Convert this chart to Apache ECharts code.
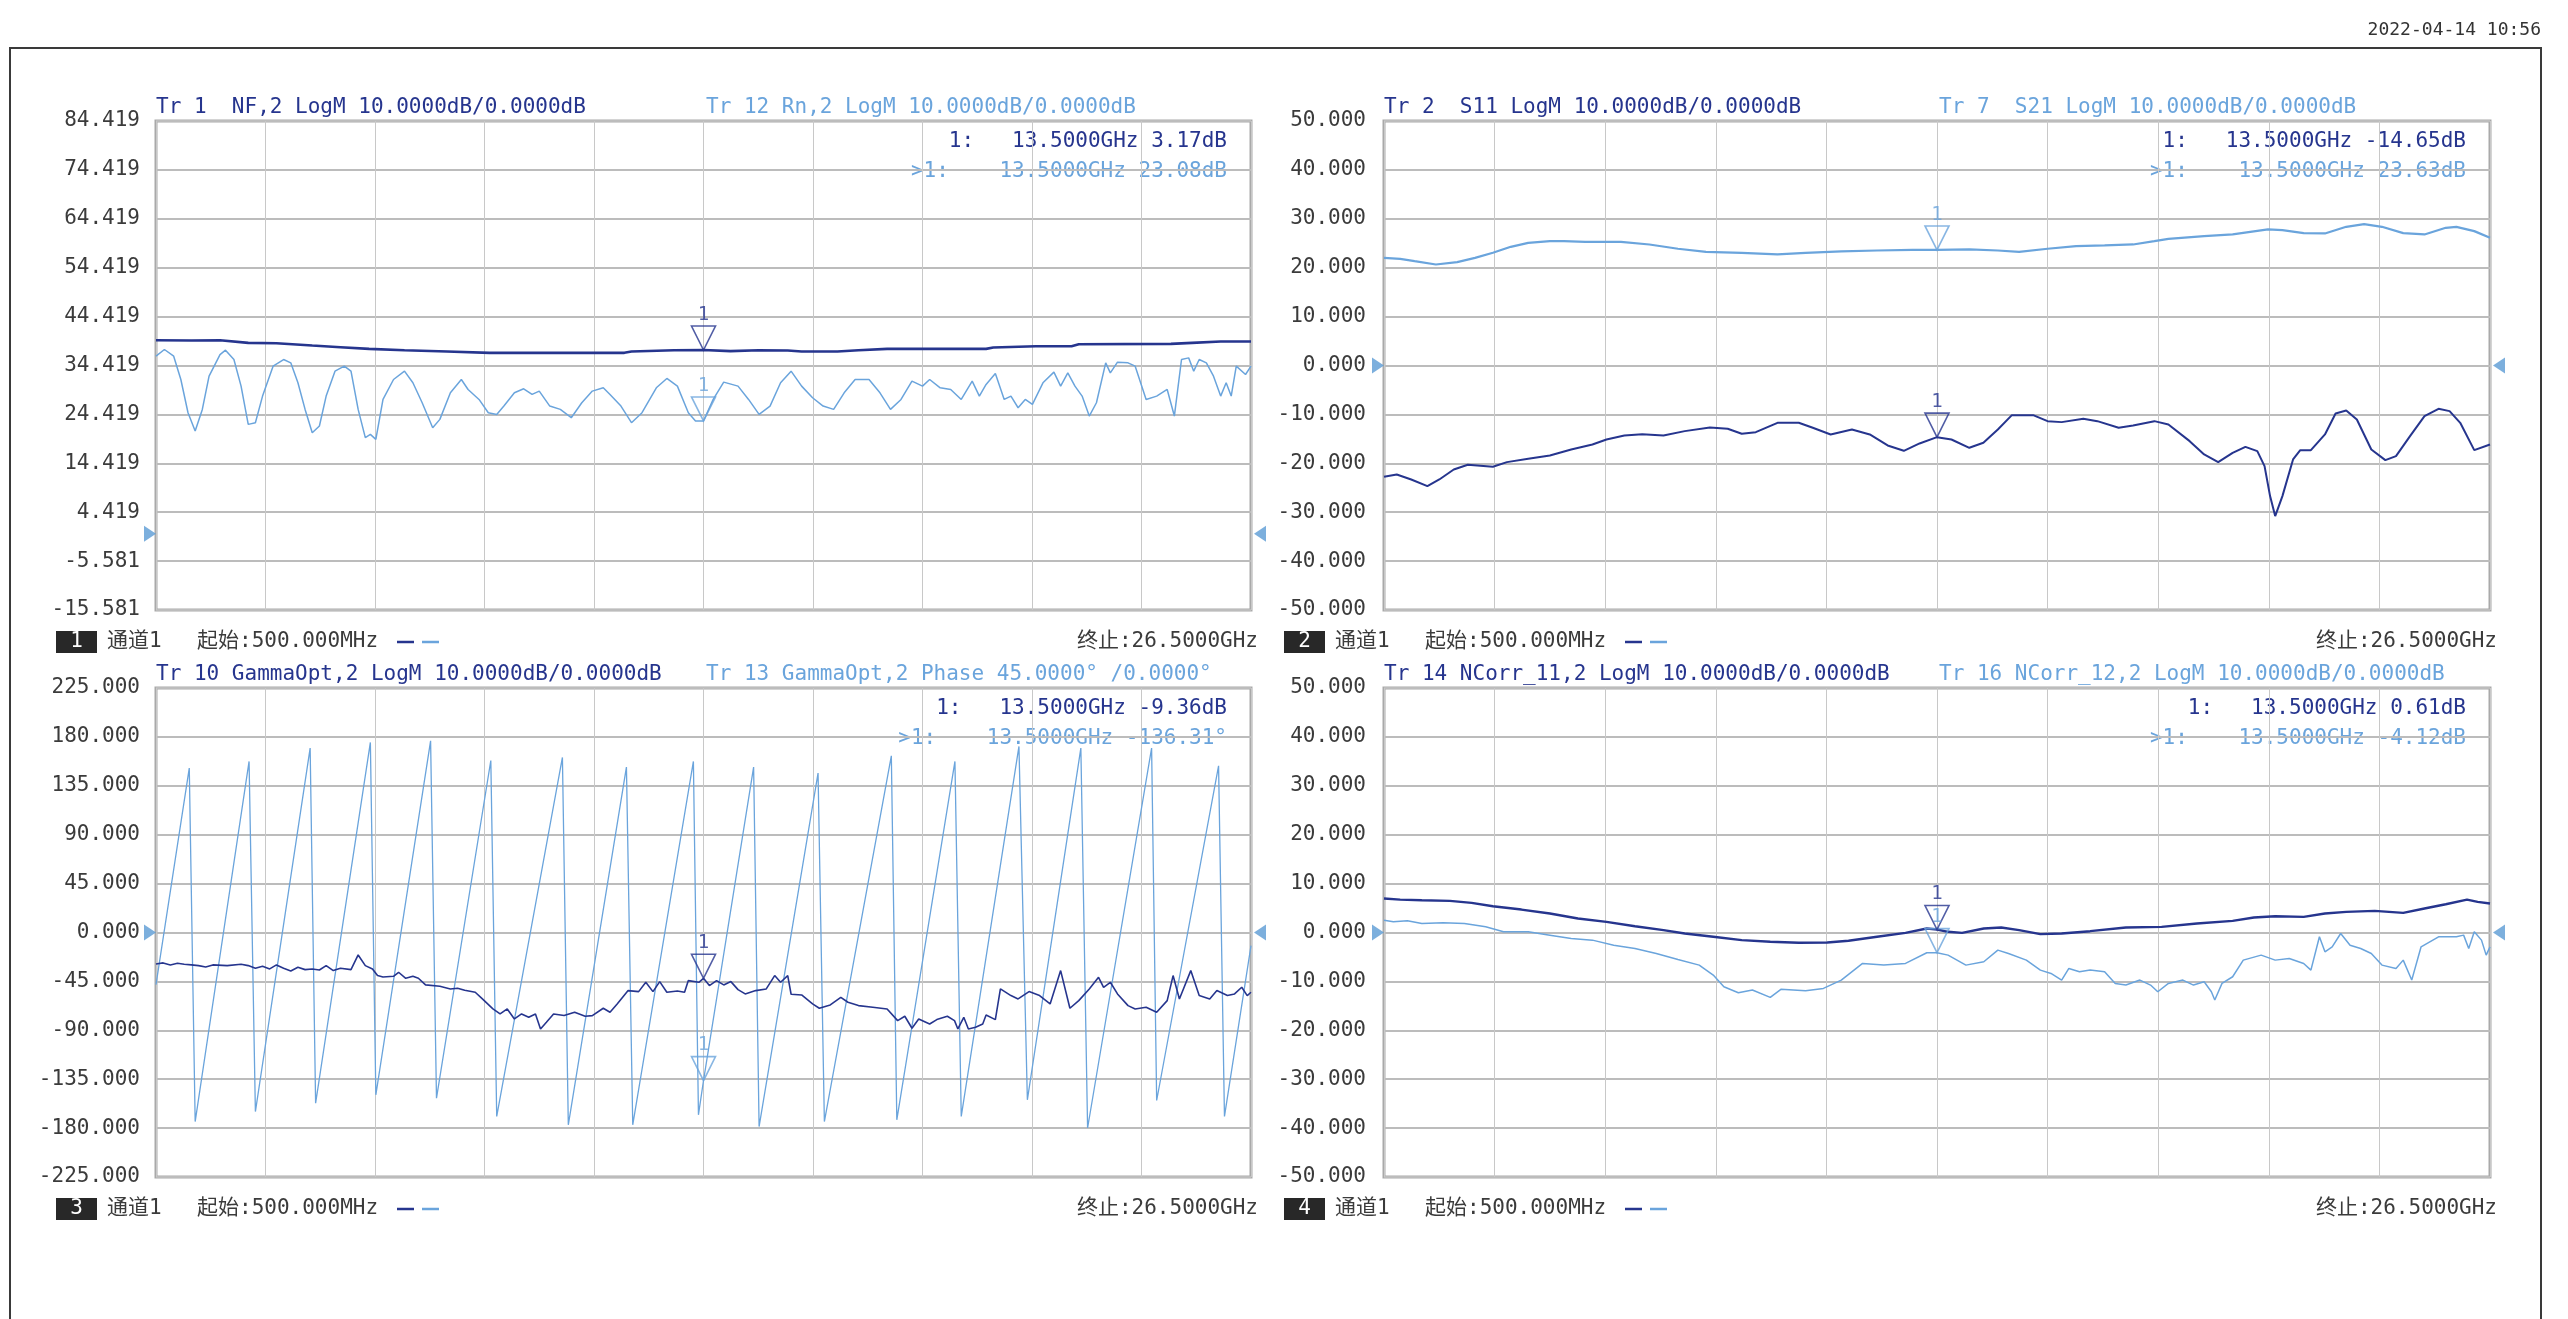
<!DOCTYPE html>
<html>
<head>
<meta charset="utf-8">
<script src="https://cdn.jsdelivr.net/npm/echarts@6/dist/echarts.min.js"></script>
<style>
  html, body { margin: 0; padding: 0; background: #ffffff; }
  #chart { width: 2568px; height: 1319px; }
</style>
</head>
<body>
<div id="chart"></div>
<script>
// ---- Sweep / marker settings ----
const markerFreq = 13.5;          // GHz, marker 1 on every trace
const startLabel = '起始:500.000MHz';
const stopLabel = '终止:26.5000GHz';
const channelLabel = '通道1';
const timestamp = '2022-04-14 10:56';

// ---- Y tick labels (top to bottom) ----
const ticksNF = ['84.419', '74.419', '64.419', '54.419', '44.419', '34.419', '24.419', '14.419', '4.419', '-5.581', '-15.581'];
const ticksS = ['50.000', '40.000', '30.000', '20.000', '10.000', '0.000', '-10.000', '-20.000', '-30.000', '-40.000', '-50.000'];
const ticksPhase = ['225.000', '180.000', '135.000', '90.000', '45.000', '0.000', '-45.000', '-90.000', '-135.000', '-180.000', '-225.000'];
const ticksNCorr = ['50.000', '40.000', '30.000', '20.000', '10.000', '0.000', '-10.000', '-20.000', '-30.000', '-40.000', '-50.000'];

// ---- Trace headers ----
const headersDark = ['Tr 1  NF,2 LogM 10.0000dB/0.0000dB', 'Tr 2  S11 LogM 10.0000dB/0.0000dB',
  'Tr 10 GammaOpt,2 LogM 10.0000dB/0.0000dB', 'Tr 14 NCorr_11,2 LogM 10.0000dB/0.0000dB'];
const headersLight = ['Tr 12 Rn,2 LogM 10.0000dB/0.0000dB', 'Tr 7  S21 LogM 10.0000dB/0.0000dB',
  'Tr 13 GammaOpt,2 Phase 45.0000° /0.0000°', 'Tr 16 NCorr_12,2 LogM 10.0000dB/0.0000dB'];

// ---- Traces: [frequency GHz, value] ----
const nfTrace = [[0.5,5.17],[1.34,5.10],[2.02,5.17],[2.69,4.63],[3.36,4.56],[4.21,4.08],[4.88,3.74],[5.56,3.40],[6.40,3.13],[7.41,2.86],[8.42,2.59],[9.77,2.59],[11.62,2.59],[11.79,2.86],[12.80,3.13],[13.5,3.17],[14.14,2.93],[14.81,3.13],[15.50,3.06],[15.83,2.86],[16.68,2.86],[17.18,3.13],[17.86,3.40],[20.21,3.40],[20.38,3.67],[21.39,3.95],[22.24,3.95],[22.41,4.35],[24.60,4.42],[25.10,4.63],[25.78,4.90],[26.5,4.90]];

const rnTrace = [[0.50,36.32],[0.70,37.69],[0.92,36.32],[1.09,31.56],[1.26,24.76],[1.43,21.02],[1.60,25.44],[1.76,32.24],[2.02,36.66],[2.15,37.55],[2.35,35.64],[2.52,30.20],[2.69,22.38],[2.86,22.72],[3.03,28.16],[3.28,34.28],[3.53,35.64],[3.70,34.96],[3.87,30.88],[4.04,25.44],[4.21,20.68],[4.38,22.04],[4.54,28.16],[4.75,33.26],[4.97,34.28],[5.13,33.26],[5.30,25.44],[5.47,19.66],[5.59,20.34],[5.72,19.32],[5.89,27.48],[6.14,31.56],[6.40,33.26],[6.60,30.88],[6.82,26.80],[7.07,21.70],[7.24,23.40],[7.49,28.84],[7.75,31.56],[7.91,29.52],[8.17,27.48],[8.39,24.76],[8.59,24.42],[8.76,26.12],[9.01,28.84],[9.23,29.66],[9.43,28.50],[9.60,29.18],[9.85,26.12],[10.10,25.44],[10.36,23.74],[10.61,26.80],[10.86,29.18],[11.12,29.86],[11.28,28.50],[11.54,26.12],[11.79,22.72],[12.04,24.76],[12.38,29.86],[12.63,31.77],[12.88,30.20],[13.14,24.76],[13.31,23.06],[13.5,23.08],[13.73,27.48],[13.98,31.02],[14.32,30.20],[14.57,27.48],[14.82,24.42],[15.08,26.12],[15.33,30.88],[15.58,33.26],[15.83,30.20],[16.09,27.82],[16.34,26.12],[16.59,25.44],[16.84,28.84],[17.10,31.56],[17.43,31.56],[17.69,28.84],[17.94,25.44],[18.19,27.48],[18.45,31.22],[18.70,30.20],[18.87,31.56],[19.12,29.86],[19.37,29.52],[19.62,27.48],[19.88,31.22],[20.05,28.16],[20.21,30.54],[20.43,32.79],[20.64,27.48],[20.80,28.16],[20.97,25.78],[21.14,27.48],[21.31,26.46],[21.56,30.88],[21.82,33.06],[21.98,30.20],[22.15,32.92],[22.32,30.20],[22.49,28.16],[22.66,24.08],[22.83,26.80],[23.05,34.96],[23.16,32.92],[23.33,35.10],[23.58,34.96],[23.75,34.28],[24.01,27.48],[24.26,28.16],[24.51,29.52],[24.68,24.08],[24.85,35.64],[25.02,35.98],[25.14,33.26],[25.27,35.64],[25.44,34.96],[25.61,32.24],[25.78,28.16],[25.91,30.88],[26.03,28.16],[26.15,34.28],[26.37,32.58],[26.50,34.28]];

const s11Trace = [[0.5,-22.76],[0.80,-22.28],[1.14,-23.31],[1.52,-24.67],[1.80,-23.31],[2.14,-21.26],[2.47,-20.31],[3.06,-20.72],[3.39,-19.76],[3.89,-19.08],[4.40,-18.40],[4.90,-17.17],[5.40,-16.15],[5.73,-15.13],[6.15,-14.31],[6.57,-14.04],[7.07,-14.31],[7.57,-13.42],[8.16,-12.67],[8.58,-12.94],[8.91,-13.97],[9.24,-13.63],[9.75,-11.72],[10.25,-11.72],[10.58,-12.74],[11.00,-14.10],[11.50,-13.08],[11.92,-14.10],[12.34,-16.35],[12.72,-17.44],[13.09,-15.94],[13.5,-14.65],[13.84,-15.13],[14.26,-16.83],[14.59,-15.81],[14.93,-13.08],[15.26,-10.15],[15.76,-10.15],[16.10,-11.38],[16.43,-11.58],[16.94,-10.90],[17.27,-11.38],[17.77,-12.74],[18.11,-12.26],[18.61,-11.38],[18.94,-12.06],[19.44,-15.47],[19.78,-18.19],[20.11,-19.76],[20.45,-17.85],[20.75,-16.63],[21.03,-17.51],[21.20,-20.58],[21.33,-26.71],[21.45,-30.80],[21.62,-26.71],[21.87,-19.22],[22.04,-17.31],[22.29,-17.31],[22.62,-14.10],[22.87,-9.81],[23.12,-9.20],[23.37,-11.04],[23.71,-17.17],[24.04,-19.35],[24.29,-18.53],[24.62,-14.44],[24.96,-10.35],[25.29,-8.86],[25.55,-9.33],[25.80,-11.72],[26.13,-17.31],[26.5,-16.15]];

const s21Trace = [[0.5,22.02],[0.88,21.82],[1.22,21.34],[1.72,20.66],[2.22,21.14],[2.64,22.02],[3.06,23.05],[3.48,24.27],[3.89,25.09],[4.40,25.43],[4.73,25.43],[5.23,25.30],[6.07,25.30],[6.74,24.75],[7.41,23.87],[8.07,23.25],[8.91,23.05],[9.75,22.71],[10.41,23.05],[11.25,23.32],[12.09,23.52],[12.92,23.66],[13.5,23.63],[14.26,23.73],[14.93,23.52],[15.43,23.25],[16.10,23.87],[16.77,24.41],[17.44,24.55],[18.11,24.75],[18.61,25.43],[18.94,25.91],[19.78,26.46],[20.45,26.80],[21.28,27.82],[21.62,27.68],[22.12,27.07],[22.62,27.00],[23.12,28.36],[23.54,28.91],[23.96,28.36],[24.46,27.07],[24.96,26.80],[25.46,28.16],[25.71,28.36],[26.13,27.48],[26.5,26.11]];

const gammaMagTrace = [[0.5,-6.43],[0.67,-6.22],[0.84,-6.63],[1.01,-6.29],[1.17,-6.50],[1.34,-6.63],[1.51,-6.77],[1.68,-7.04],[1.85,-6.63],[2.19,-6.77],[2.52,-6.50],[2.69,-6.77],[2.86,-7.31],[3.03,-6.91],[3.20,-7.45],[3.36,-6.63],[3.53,-7.31],[3.70,-7.86],[3.87,-7.11],[4.04,-7.59],[4.21,-7.45],[4.38,-7.66],[4.54,-6.77],[4.71,-7.79],[4.88,-7.31],[5.13,-7.59],[5.30,-4.59],[5.47,-6.77],[5.64,-7.45],[5.76,-8.81],[5.89,-9.09],[6.14,-8.95],[6.26,-8.13],[6.43,-9.36],[6.60,-8.95],[6.73,-9.36],[6.90,-10.72],[7.24,-11.00],[7.49,-11.54],[7.66,-11.41],[7.83,-11.81],[8.08,-12.22],[8.25,-13.59],[8.50,-15.63],[8.67,-16.65],[8.84,-15.63],[9.01,-17.68],[9.18,-16.65],[9.35,-17.34],[9.51,-16.65],[9.63,-19.72],[9.77,-18.36],[9.94,-16.65],[10.19,-16.99],[10.44,-16.31],[10.69,-17.13],[10.86,-16.99],[11.12,-15.49],[11.28,-16.31],[11.45,-14.61],[11.71,-11.88],[11.96,-12.09],[12.13,-10.18],[12.30,-12.09],[12.46,-10.04],[12.63,-12.22],[12.88,-11.95],[13.05,-12.22],[13.14,-9.84],[13.39,-10.18],[13.5,-9.36],[13.64,-10.86],[13.81,-9.84],[13.98,-10.72],[14.15,-10.04],[14.32,-11.68],[14.49,-12.56],[14.74,-11.88],[14.99,-11.54],[15.19,-8.81],[15.33,-10.18],[15.50,-8.81],[15.58,-12.63],[15.83,-12.77],[16.09,-14.61],[16.25,-15.49],[16.51,-14.81],[16.76,-13.25],[16.93,-14.27],[17.18,-14.95],[17.52,-15.29],[17.86,-15.63],[18.11,-18.02],[18.28,-17.13],[18.45,-19.58],[18.61,-17.68],[18.87,-18.70],[19.04,-17.81],[19.29,-17.13],[19.46,-18.02],[19.54,-19.72],[19.68,-17.34],[19.79,-19.72],[19.96,-19.38],[20.13,-18.70],[20.21,-16.86],[20.43,-17.81],[20.55,-11.54],[20.80,-12.90],[20.97,-13.59],[21.23,-12.09],[21.48,-12.90],[21.73,-14.61],[21.98,-7.79],[22.20,-15.49],[22.41,-13.93],[22.66,-11.54],[22.88,-9.16],[23.00,-11.20],[23.16,-10.18],[23.33,-12.56],[23.58,-14.95],[23.75,-15.63],[24.01,-15.29],[24.26,-16.31],[24.51,-13.93],[24.65,-8.81],[24.80,-13.59],[25.07,-7.79],[25.27,-12.90],[25.52,-13.59],[25.69,-11.88],[25.94,-12.90],[26.11,-12.56],[26.28,-11.20],[26.41,-12.90],[26.50,-12.22]];

const gammaPhaseTrace = [[0.5,-48.0],[1.29,151.3],[1.43,-174.0],[2.71,157.4],[2.86,-164.8],[4.16,169.7],[4.29,-157.1],[5.59,174.9],[5.72,-149.4],[7.02,176.4],[7.16,-152.5],[8.45,158.3],[8.59,-169.3],[10.15,161.1],[10.29,-177.0],[11.67,152.2],[11.82,-177.0],[13.26,157.4],[13.38,-167.8],[13.5,-136.31],[14.69,152.2],[14.82,-178.6],[16.22,146.7],[16.37,-174.0],[17.96,162.6],[18.09,-172.4],[19.47,157.4],[19.62,-169.3],[20.99,171.2],[21.19,-154.0],[22.46,169.7],[22.62,-179.9],[24.14,169.7],[24.26,-154.6],[25.73,153.4],[25.87,-169.3],[26.5,-12.0]];

const ncorr11Trace = [[0.5,6.94],[0.88,6.73],[1.39,6.60],[2.05,6.46],[2.56,6.05],[3.06,5.37],[3.73,4.69],[4.40,3.88],[5.06,2.86],[5.73,2.18],[6.40,1.29],[7.07,0.48],[7.57,-0.20],[8.24,-0.88],[8.91,-1.56],[9.58,-1.90],[10.25,-2.11],[10.92,-2.04],[11.42,-1.70],[12.09,-0.88],[12.76,-0.07],[13.26,0.82],[13.5,0.61],[13.76,0.14],[14.09,-0.07],[14.60,0.82],[15.01,1.02],[15.43,0.48],[15.93,-0.34],[16.43,-0.20],[17.10,0.27],[17.94,1.02],[18.78,1.16],[19.61,1.84],[20.45,2.38],[20.95,3.06],[21.45,3.33],[22.12,3.20],[22.62,3.88],[23.12,4.22],[23.79,4.42],[24.46,4.01],[24.96,4.90],[25.46,5.78],[25.96,6.73],[26.21,6.26],[26.5,5.92]];

const ncorr12Trace = [[0.5,2.52],[0.72,2.18],[1.05,2.38],[1.39,1.84],[1.89,1.97],[2.39,1.84],[2.89,1.16],[3.31,0.14],[3.89,0.14],[4.40,-0.54],[4.90,-1.22],[5.40,-1.56],[5.90,-2.59],[6.40,-3.27],[6.90,-4.29],[7.41,-5.51],[7.91,-6.67],[8.24,-8.71],[8.49,-11.09],[8.83,-12.31],[9.16,-11.77],[9.58,-13.27],[9.83,-11.63],[10.41,-11.90],[10.83,-11.43],[11.25,-9.73],[11.75,-6.33],[12.25,-6.67],[12.76,-6.33],[13.26,-4.15],[13.5,-4.12],[13.76,-4.63],[14.18,-6.67],[14.60,-5.99],[14.93,-3.61],[15.18,-4.29],[15.60,-5.65],[15.93,-7.69],[16.18,-8.37],[16.43,-9.73],[16.60,-7.35],[16.85,-8.03],[17.10,-7.69],[17.44,-8.03],[17.69,-10.41],[17.94,-10.75],[18.27,-9.73],[18.52,-10.75],[18.69,-12.11],[18.94,-10.41],[19.28,-9.73],[19.53,-10.75],[19.78,-10.07],[19.95,-12.11],[20.03,-13.81],[20.20,-10.41],[20.45,-9.05],[20.70,-5.65],[21.12,-4.63],[21.45,-5.65],[21.78,-5.31],[22.12,-6.33],[22.29,-7.69],[22.49,-0.88],[22.62,-3.95],[22.79,-2.93],[22.99,-0.20],[23.21,-2.59],[23.46,-3.27],[23.71,-4.29],[23.96,-6.67],[24.29,-7.35],[24.46,-5.65],[24.66,-9.73],[24.88,-2.93],[25.29,-0.88],[25.71,-0.88],[25.88,-0.54],[26.00,-3.27],[26.13,0.14],[26.30,-1.56],[26.41,-4.63],[26.5,-2.93]];

// ---- Styling ----
const FONT_FAMILY = '"DejaVu Sans Mono", "Liberation Mono", "Noto Sans CJK SC", monospace';
const FONT = '21px ' + FONT_FAMILY;
const DARK = '#26358e';
const LIGHT = '#6aa4dc';
const REF_MARK = '#5b9bd5';
const TEXT = '#3b3b3b';

// Panel layout and per-trace scales (each trace keeps its own scale)
const panels = [
  { left: 156, top: 121, width: 1095, height: 489, labelMargin: 16, lightHeaderDx: 550, number: '1',
    ticks: ticksNF, dark: nfTrace, light: rnTrace,
    darkRange: [-50, 50], lightRange: [-15.581, 84.419], darkW: 2.6, lightW: 1.5, lightUnit: 'dB' },
  { left: 1384, top: 121, width: 1106, height: 489, labelMargin: 18, lightHeaderDx: 555, number: '2',
    ticks: ticksS, dark: s11Trace, light: s21Trace,
    darkRange: [-50, 50], lightRange: [-50, 50], darkW: 2, lightW: 2.2, lightUnit: 'dB' },
  { left: 156, top: 688, width: 1095, height: 489, labelMargin: 16, lightHeaderDx: 550, number: '3',
    ticks: ticksPhase, dark: gammaMagTrace, light: gammaPhaseTrace,
    darkRange: [-50, 50], lightRange: [-225, 225], darkW: 1.6, lightW: 1.3, lightUnit: '°' },
  { left: 1384, top: 688, width: 1106, height: 489, labelMargin: 18, lightHeaderDx: 555, number: '4',
    ticks: ticksNCorr, dark: ncorr11Trace, light: ncorr12Trace,
    darkRange: [-50, 50], lightRange: [-50, 50], darkW: 2.4, lightW: 1.5, lightUnit: 'dB' }
];

function valueAt(trace, f) {
  const p = trace.find(d => Math.abs(d[0] - f) < 1e-9);
  return p ? p[1] : null;
}

const grids = [], xAxes = [], yAxes = [], series = [], graphics = [];

function text(x, y, str, color, align, font) {
  graphics.push({ type: 'text', x: x, y: y, silent: true,
    style: { text: str, fill: color, font: font || FONT,
      textAlign: align || 'left', textVerticalAlign: 'middle', align: align || 'left', verticalAlign: 'middle' } });
}

panels.forEach((p, i) => {
  const right = p.left + p.width, bottom = p.top + p.height;
  grids.push({ left: p.left, top: p.top, width: p.width, height: p.height,
    show: true, borderColor: '#a9a9a9', borderWidth: 3, containLabel: false });

  // division axes (grid lines + printed scale)
  xAxes.push({ gridIndex: i, type: 'value', min: 0, max: 10, interval: 1,
    axisLine: { show: false }, axisTick: { show: false }, axisLabel: { show: false },
    splitLine: { show: true, lineStyle: { color: '#c8c8c8', width: 1 } } });
  // frequency axis
  xAxes.push({ gridIndex: i, type: 'value', min: 0.5, max: 26.5, show: false });

  const ticks = p.ticks;
  yAxes.push({ gridIndex: i, type: 'value', min: 0, max: 10, interval: 1,
    axisLine: { show: false }, axisTick: { show: false },
    axisLabel: { margin: p.labelMargin, color: TEXT, fontFamily: FONT_FAMILY, fontSize: 21,
      formatter: v => ticks[10 - Math.round(v)] },
    splitLine: { show: true, lineStyle: { color: '#bcbcbc', width: 2 } } });
  yAxes.push({ gridIndex: i, type: 'value', min: p.lightRange[0], max: p.lightRange[1], show: false });
  yAxes.push({ gridIndex: i, type: 'value', min: p.darkRange[0], max: p.darkRange[1], show: false });

  const fx = 2 * i + 1, yl = 3 * i + 1, yd = 3 * i + 2;

  series.push({ type: 'line', xAxisIndex: fx, yAxisIndex: yl, data: p.light, symbol: 'none',
    lineStyle: { color: LIGHT, width: p.lightW }, silent: true, z: 3 });
  series.push({ type: 'line', xAxisIndex: fx, yAxisIndex: yd, data: p.dark, symbol: 'none',
    lineStyle: { color: DARK, width: p.darkW }, silent: true, z: 4 });

  // marker 1 on both traces
  const mDark = valueAt(p.dark, markerFreq), mLight = valueAt(p.light, markerFreq);
  [[yl, mLight, LIGHT], [yd, mDark, DARK]].forEach(([yi, v, c]) => {
    series.push({ type: 'scatter', xAxisIndex: fx, yAxisIndex: yi, data: [[markerFreq, v]],
      symbol: 'path://M0,0 L24,0 L12,24 Z', symbolSize: [24, 24], symbolOffset: [0, -12],
      itemStyle: { color: 'rgba(255,255,255,0)', borderColor: c, borderWidth: 1.6 },
      label: { show: true, formatter: '1', position: 'top', distance: 1, color: c,
        fontFamily: FONT_FAMILY, fontSize: 19 },
      clip: false, silent: true, z: 6 });
  });

  // reference-level pointers on both sides
  series.push({ type: 'scatter', xAxisIndex: fx, yAxisIndex: yl, data: [[0.5, 0]],
    symbol: 'path://M0,0 L12,8 L0,16 Z', symbolSize: [12, 16], symbolOffset: [-6, 0],
    itemStyle: { color: REF_MARK }, clip: false, silent: true, z: 6 });
  series.push({ type: 'scatter', xAxisIndex: fx, yAxisIndex: yl, data: [[26.5, 0]],
    symbol: 'path://M12,0 L0,8 L12,16 Z', symbolSize: [12, 16], symbolOffset: [9, 0],
    itemStyle: { color: REF_MARK }, clip: false, silent: true, z: 6 });

  // trace headers
  text(p.left, p.top - 13, headersDark[i], DARK);
  text(p.left + p.lightHeaderDx, p.top - 13, headersLight[i], LIGHT);

  // marker readouts
  text(right - 24, p.top + 21, '1:   13.5000GHz ' + mDark.toFixed(2) + 'dB', DARK, 'right');
  text(right - 24, p.top + 51, '>1:    13.5000GHz ' + mLight.toFixed(2) + p.lightUnit, LIGHT, 'right');

  // channel footer
  const fy = bottom + 32;
  graphics.push({ type: 'rect', silent: true, shape: { x: p.left - 100, y: bottom + 21, width: 41, height: 22 },
    style: { fill: '#282828' } });
  text(p.left - 79.5, fy, p.number, '#ffffff', 'center');
  text(p.left - 49, fy, channelLabel, TEXT);
  text(p.left + 41, fy, startLabel, TEXT);
  graphics.push({ type: 'line', silent: true, shape: { x1: p.left + 241, y1: fy, x2: p.left + 258, y2: fy },
    style: { stroke: DARK, lineWidth: 2.5 } });
  graphics.push({ type: 'line', silent: true, shape: { x1: p.left + 266, y1: fy, x2: p.left + 283, y2: fy },
    style: { stroke: LIGHT, lineWidth: 2.5 } });
  text(right + 7, fy, stopLabel, TEXT, 'right');
});

// outer window frame and timestamp
graphics.push({ type: 'polyline', silent: true,
  shape: { points: [[10, 1330], [10, 48], [2541, 48], [2541, 1330]] },
  style: { stroke: '#3a3a3a', lineWidth: 2, fill: null } });
text(2541, 30, timestamp, '#333333', 'right', '18px ' + FONT_FAMILY);

const chart = echarts.init(document.getElementById('chart'), null, { renderer: 'canvas' });
chart.setOption({
  animation: false,
  backgroundColor: '#ffffff',
  grid: grids,
  xAxis: xAxes,
  yAxis: yAxes,
  series: series,
  graphic: graphics
});
</script>
</body>
</html>
